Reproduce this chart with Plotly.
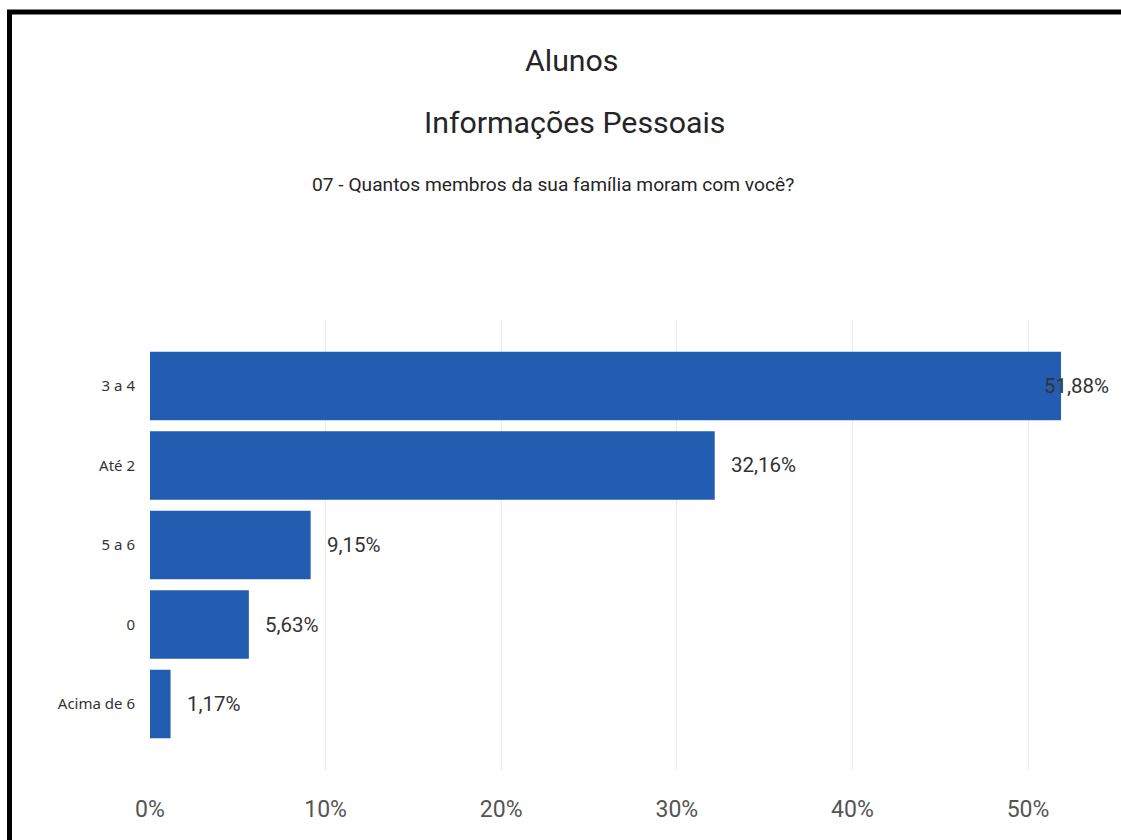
import plotly.graph_objects as go

categories = ["3 a 4", "Até 2", "5 a 6", "0", "Acima de 6"]
values = [51.88, 32.16, 9.15, 5.63, 1.17]
x_ticks = [0, 10, 20, 30, 40, 50]

title_1 = "Alunos"
title_2 = "Informações Pessoais"
title_3 = "07 - Quantos membros da sua família moram com você?"

W, H = 1121, 840
ML, MR, MT, MB = 150, 0, 320, 70
PW, PH = W - ML - MR, H - MT - MB

def px_x(p):
    return (p - ML) / PW

def px_y(p):
    return (H - MB - p) / PH

BAR = "#235DB1"

fig = go.Figure()
fig.add_trace(go.Bar(
    y=categories, x=values, orientation="h",
    marker=dict(color=BAR, line=dict(width=0)),
    width=0.86, hoverinfo="skip",
))

annotations = []
for i, v in enumerate(values):
    shift = -19 if v == max(values) else 14
    annotations.append(dict(
        x=v, y=i, xref="x", yref="y", text=f"{v:.2f}%".replace(".", ","),
        showarrow=False, xanchor="left", xshift=shift,
        font=dict(family="Roboto", size=20.5, color="#333333"),
    ))

for txt, cx, cy, sz in [(title_1, 571, 60, 30.3), (title_2, 574, 122, 30.3), (title_3, 553, 184, 19.2)]:
    annotations.append(dict(
        x=px_x(cx), y=px_y(cy), xref="paper", yref="paper", text=txt,
        showarrow=False, xanchor="center", yanchor="middle",
        font=dict(family="Roboto", size=sz, color="#252525"),
    ))

border = dict(color="#000000", width=5)
fig.update_layout(
    width=W, height=H,
    margin=dict(l=ML, r=MR, t=MT, b=MB, pad=0),
    paper_bgcolor="white", plot_bgcolor="white",
    showlegend=False,
    separators=",.",
    annotations=annotations,
    shapes=[
        dict(type="line", xref="paper", yref="paper",
             x0=px_x(7), x1=px_x(1200), y0=px_y(12), y1=px_y(12), line=border),
        dict(type="line", xref="paper", yref="paper",
             x0=px_x(9.5), x1=px_x(9.5), y0=px_y(10), y1=px_y(900), line=border),
    ],
    xaxis=dict(
        range=[0, PW / 17.56], tickvals=x_ticks,
        ticktext=[f"{t}%" for t in x_ticks],
        showgrid=True, gridcolor="#ebebeb", gridwidth=1,
        zeroline=False, showline=False,
        ticks="outside", ticklen=0, ticklabelstandoff=18,
        tickfont=dict(family="Roboto", size=23, color="#555555"),
    ),
    yaxis=dict(
        categoryorder="array", categoryarray=categories,
        range=[4.83, -0.83],
        showgrid=False, zeroline=False, showline=False,
        ticks="outside", ticklen=11, tickcolor="rgba(0,0,0,0)",
        tickfont=dict(family="Noto Sans", size=15, color="#333333"),
    ),
)

fig.write_html(
    "out.html",
    config={"displayModeBar": False},
    post_script="document.body.style.margin='0';document.body.style.overflow='hidden';document.documentElement.style.overflow='hidden';",
)
